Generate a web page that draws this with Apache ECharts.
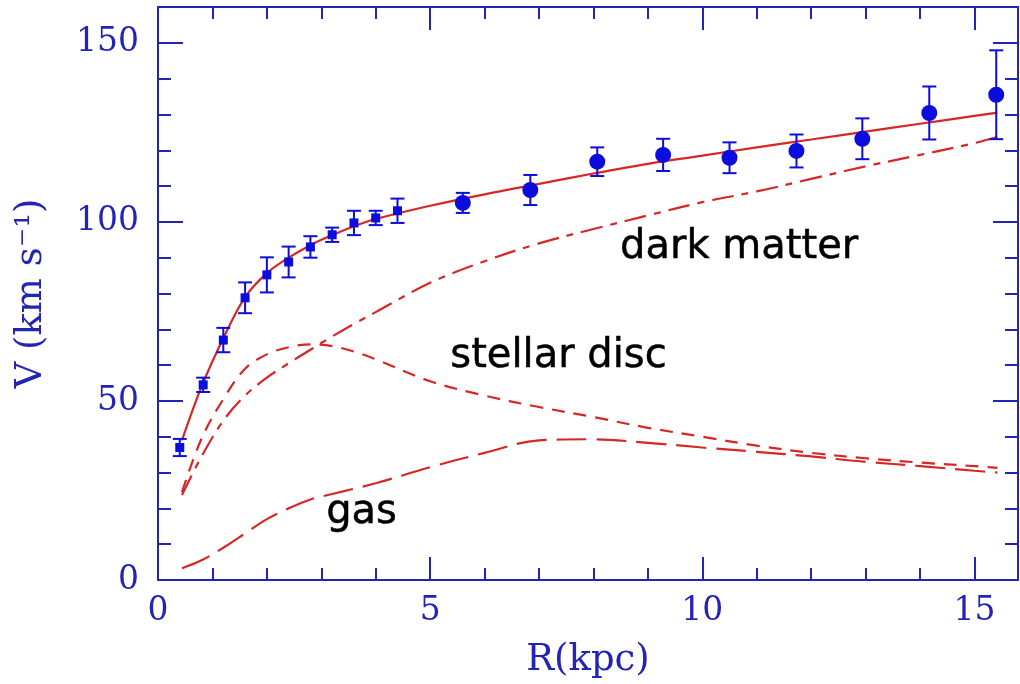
<!DOCTYPE html>
<html><head><meta charset="utf-8">
<script src="https://cdn.jsdelivr.net/npm/echarts@6/dist/echarts.min.js"></script>
<style>html,body{margin:0;padding:0;background:#fff}#c{width:1020px;height:684px}</style>
</head><body><div id="c"></div>
<script>
// Observed rotation curve: inner points (squares) and outer points (circles)
const innerR   = [0.40, 0.83, 1.20, 1.60, 2.00, 2.40, 2.80, 3.20, 3.60, 4.00, 4.40];
const innerV   = [37.0, 54.5, 67.0, 78.8, 85.2, 88.8, 93.0, 96.4, 99.7, 101.1, 103.1];
const innerErr = [2.4, 2.0, 3.4, 4.3, 4.9, 4.3, 3.0, 2.0, 3.4, 2.0, 3.4];
const outerR   = [5.60, 6.84, 8.07, 9.28, 10.50, 11.73, 12.94, 14.17, 15.40];
const outerV   = [105.3, 108.9, 116.8, 118.7, 117.9, 119.8, 123.2, 130.4, 135.5];
const outerErr = [2.8, 4.2, 4.0, 4.5, 4.3, 4.6, 5.7, 7.4, 12.4];

// Model curves sampled on a common radius grid
const modelR  = [0.44, 0.8, 1.2, 1.6, 2.0, 2.4, 2.8, 3.2, 3.6, 4.0, 5, 6, 7, 8, 9, 10, 11, 12, 13, 14, 15, 15.42];
const totalV  = [39, 54, 67.5, 79, 85.7, 90, 93.5, 96.3, 98.8, 100.8, 104.5, 107.7, 110.6, 113.5, 116.2, 118.5, 120.8, 123, 125.2, 127.4, 129.6, 130.5];
const darkV   = [23.7, 34.5, 44.5, 51.5, 56.5, 60.5, 64.3, 68, 71.5, 74.8, 83, 89, 94, 98, 101.8, 105.5, 108.5, 112, 115.5, 118.7, 122, 123.7];
const discV   = [24.5, 39.5, 50.5, 59, 63, 65, 65.8, 65.3, 63.8, 61.6, 55.5, 51.5, 48.3, 45.5, 42.5, 40, 37.5, 35.5, 34, 32.8, 31.8, 31.3];
const gasV    = [3.3, 5.5, 9, 13, 17, 20, 22.5, 24, 25.5, 27, 31.5, 35.5, 39, 39.3, 38.3, 37, 35.8, 34.5, 33, 31.8, 30.5, 30];

// Annotations
const noteText = ['dark matter', 'stellar disc', 'gas'];
const noteR    = [8.49, 5.37, 3.09];
const noteV    = [92.7, 62.3, 18.7];

// Axis ticks
const xMajorTicks = [0, 5, 10, 15];
const yMajorTicks = [0, 50, 100, 150];
const xMin = 0, xMax = 15.8, yMin = 0, yMax = 160;

const AXIS = '#2424b4';
const RED = '#d62626';
const MARK = '#0c0cdc';

function zip(a, b) { return a.map((v, i) => [v, b[i]]); }
function zip3(a, b, c) { return a.map((v, i) => [v, b[i], c[i]]); }

const serifFont = 'DejaVu Serif';

function xAxisDef(pos, major) {
  return {
    type: 'value', min: xMin, max: xMax, position: pos,
    interval: major ? 5 : 1,
    axisLine: { show: major, onZero: false, lineStyle: { color: AXIS, width: 2 } },
    axisTick: major ? { show: true, inside: true, length: 23, customValues: xMajorTicks, lineStyle: { color: AXIS, width: 2 } }
                    : { show: true, inside: true, length: 12, lineStyle: { color: AXIS, width: 2 } },
    axisLabel: (major && pos === 'bottom') ? { show: true, customValues: xMajorTicks, color: AXIS, fontFamily: serifFont, fontSize: 33, margin: 15 } : { show: false },
    splitLine: { show: false },
    name: (major && pos === 'bottom') ? 'R(kpc)' : '',
    nameLocation: 'middle', nameGap: 62,
    nameTextStyle: { color: AXIS, fontFamily: serifFont, fontSize: 37 }
  };
}
function yAxisDef(pos, major) {
  return {
    type: 'value', min: yMin, max: yMax, position: pos,
    interval: major ? 50 : 10,
    axisLine: { show: major, onZero: false, lineStyle: { color: AXIS, width: 2 } },
    axisTick: major ? { show: true, inside: true, length: 25, customValues: yMajorTicks, lineStyle: { color: AXIS, width: 2 } }
                    : { show: true, inside: true, length: 13, lineStyle: { color: AXIS, width: 2 } },
    axisLabel: (major && pos === 'left') ? { show: true, customValues: yMajorTicks, color: AXIS, fontFamily: serifFont, fontSize: 33, margin: 19 } : { show: false },
    splitLine: { show: false },
    name: (major && pos === 'left') ? 'V (km s\u207B\u00B9)' : '',
    nameLocation: 'middle', nameGap: 108, nameRotate: 90,
    nameTextStyle: { color: AXIS, fontFamily: serifFont, fontSize: 37 }
  };
}

function errorBars(points) {
  return {
    type: 'custom',
    data: points,
    z: 3,
    renderItem: function (params, api) {
      const x = api.value(0), y = api.value(1), e = api.value(2);
      const top = api.coord([x, y + e]);
      const bot = api.coord([x, y - e]);
      const hw = 7;
      const style = { stroke: MARK, lineWidth: 2 };
      return {
        type: 'group',
        children: [
          { type: 'line', shape: { x1: top[0], y1: top[1], x2: bot[0], y2: bot[1] }, style: style },
          { type: 'line', shape: { x1: top[0] - hw, y1: top[1], x2: top[0] + hw, y2: top[1] }, style: style },
          { type: 'line', shape: { x1: bot[0] - hw, y1: bot[1], x2: bot[0] + hw, y2: bot[1] }, style: style }
        ]
      };
    }
  };
}

function curve(vals, dash) {
  return {
    type: 'line', data: zip(modelR, vals), smooth: 0.35, symbol: 'none', z: 2,
    lineStyle: { color: RED, width: 2.2, type: dash }
  };
}

const chart = echarts.init(document.getElementById('c'), null, { renderer: 'canvas' });
chart.setOption({
  animation: false,
  backgroundColor: '#ffffff',
  grid: { left: 158, top: 7, right: 2, bottom: 104, containLabel: false },
  xAxis: [xAxisDef('bottom', true), xAxisDef('bottom', false), xAxisDef('top', true), xAxisDef('top', false)],
  yAxis: [yAxisDef('left', true), yAxisDef('left', false), yAxisDef('right', true), yAxisDef('right', false)],
  series: [
    curve(gasV, [30, 10]),
    curve(discV, [13, 9]),
    curve(darkV, [22, 8, 7, 8]),
    curve(totalV, 'solid'),
    errorBars(zip3(innerR, innerV, innerErr)),
    errorBars(zip3(outerR, outerV, outerErr)),
    { type: 'scatter', data: zip(innerR, innerV), symbol: 'rect', symbolSize: 9, itemStyle: { color: MARK, opacity: 1 }, z: 4 },
    { type: 'scatter', data: zip(outerR, outerV), symbol: 'circle', symbolSize: 16, itemStyle: { color: MARK, opacity: 1 }, z: 4 },
    {
      type: 'scatter', symbolSize: 0, z: 5, silent: true,
      data: noteText.map((t, i) => ({ value: [noteR[i], noteV[i]], name: t })),
      label: { show: true, position: 'inside', align: 'left', verticalAlign: 'middle', formatter: '{b}',
               color: '#000000', opacity: 1, textBorderColor: '#000000', textBorderWidth: 0.5,
               fontFamily: 'DejaVu Sans', fontSize: 40 }
    }
  ]
});
</script>
</body></html>
